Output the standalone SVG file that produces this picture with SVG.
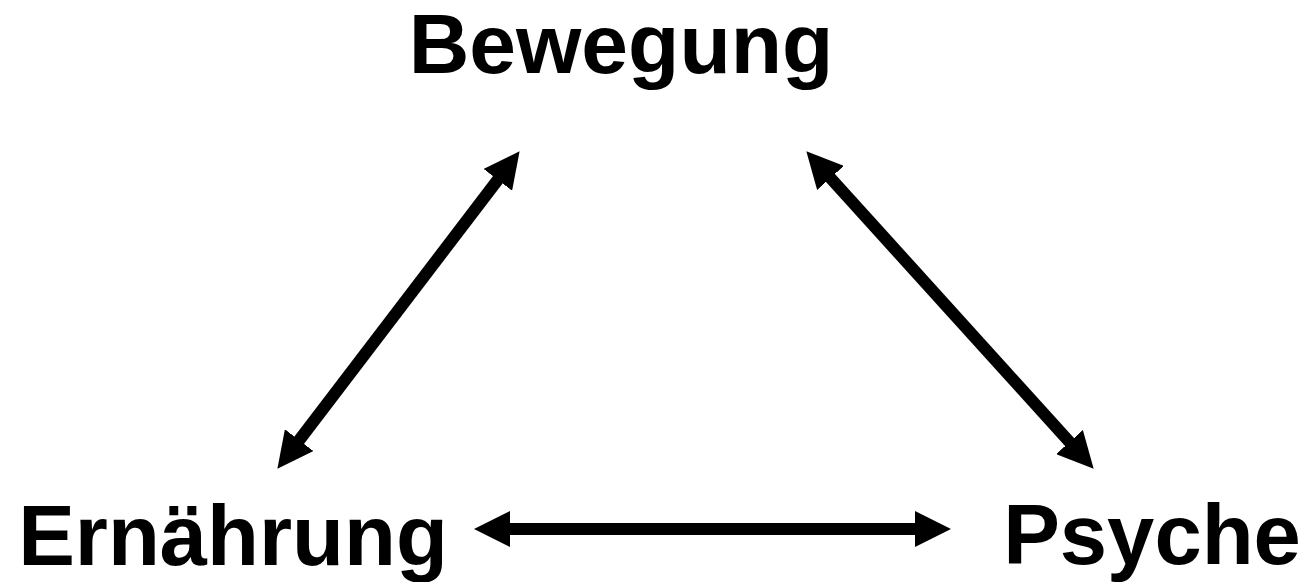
<svg xmlns="http://www.w3.org/2000/svg" width="1305" height="582" viewBox="0 0 1305 582">
  <style>
    .label { font-family: "Liberation Sans", Arial, sans-serif; font-weight: bold; font-size: 85px; fill: #000; text-anchor: middle; }
    .conn { stroke: #000; stroke-width: 12; fill: none; marker-start: url(#head); marker-end: url(#head); }
  </style>
  <defs>
    <marker id="head" markerUnits="userSpaceOnUse" markerWidth="36" markerHeight="36" refX="1" refY="17.5" orient="auto-start-reverse" viewBox="0 0 35 35">
      <path d="M0,0 L35,17.5 L0,35 z" fill="#000"/>
    </marker>
  </defs>
  <rect width="1305" height="582" fill="#fff"/>
  <g id="bewegung"><text class="label" x="621" y="73" style="font-size:84px">Bewegung</text></g>
  <g id="ernaehrung"><text class="label" x="233" y="565">Ernährung</text></g>
  <g id="psyche"><text class="label" x="1152" y="564">Psyche</text></g>
  <g id="connectors">
    <line class="conn" x1="298.6" y1="441" x2="498.4" y2="179"/>
    <line class="conn" x1="829.8" y1="177.2" x2="1070.2" y2="442.8"/>
    <line class="conn" x1="509" y1="529" x2="916" y2="529"/>
  </g>
</svg>
